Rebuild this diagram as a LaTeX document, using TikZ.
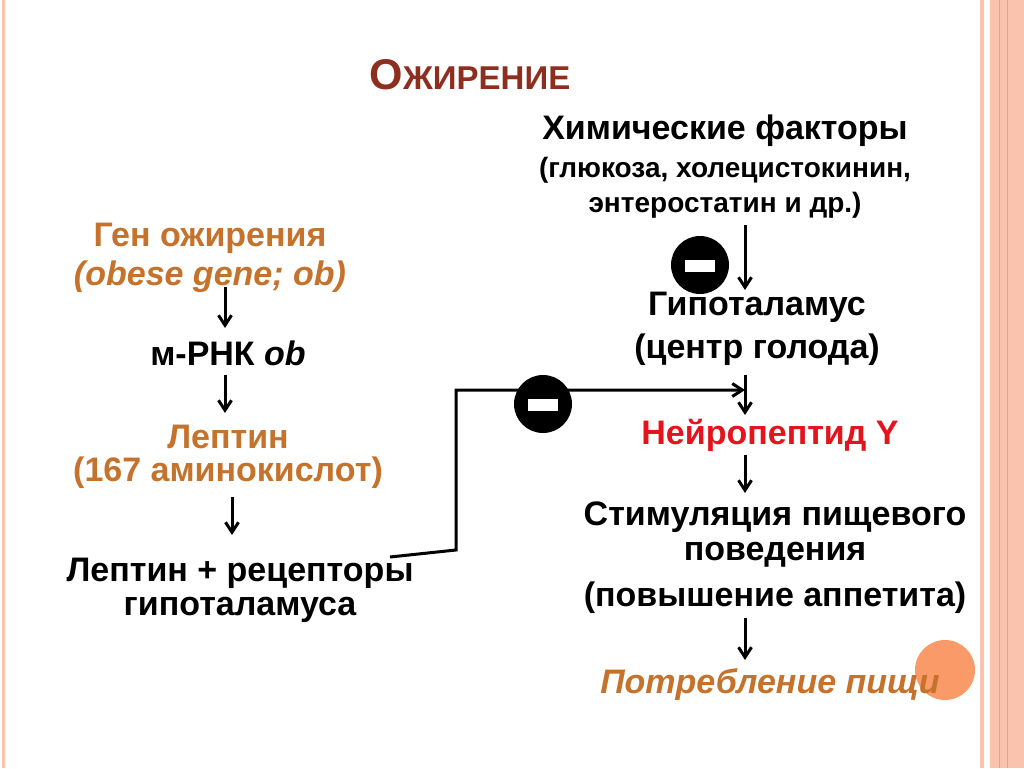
\documentclass[tikz,border=0pt]{standalone}
\usepackage{fontspec}
\setmainfont{Liberation Sans}
\usetikzlibrary{arrows.meta}
\definecolor{ttl}{HTML}{8E2E1E}
\definecolor{org}{HTML}{C5732C}
\definecolor{rd}{HTML}{E3141C}
\definecolor{pk}{HTML}{F9C3AE}
\definecolor{pkd}{HTML}{EBA184}
\definecolor{oc}{HTML}{F99A68}
\begin{document}
\begin{tikzpicture}[x=1pt,y=-1pt,
  t/.style={font=\bfseries\fontsize{34}{38}\selectfont,inner sep=0pt},
  ts/.style={font=\bfseries\fontsize{28}{32}\selectfont,inner sep=0pt},
  ar/.style={draw,line width=3pt,-{Straight Barb[length=10pt,width=13pt]}},
  minus/.style={circle,fill=black,minimum size=58pt,inner sep=0pt}]
\useasboundingbox (0,0) rectangle (1024,768);
\fill[white] (0,0) rectangle (1024,768);
% frame
\fill[pk] (2,0) rectangle (5,768);
\fill[pk] (980,0) rectangle (984,768);
\fill[pk] (990,0) rectangle (1024,768);
\draw[pkd,line width=0.8pt] (999,0) -- (999,768);
\draw[pkd,line width=0.8pt] (1007,0) -- (1007,768);
% orange circle
\fill[oc] (945,670) circle (30);
% title
\node[inner sep=0pt,text=ttl,font=\bfseries] (title) at (470,75)
  {{\fontsize{43}{46}\selectfont О}{\fontsize{33}{36}\selectfont ЖИРЕНИЕ}};
% left column
\node[t,text=org] (gen) at (210,238) {Ген ожирения};
\node[t,text=org] (gen2) at (210,277) {\itshape (obese gene; ob)};
\node[t] (mrna) at (228,353) {м-РНК \itshape ob};
\node[t,text=org] (lep) at (228,437) {Лептин};
\node[t,text=org] (lep2) at (228,473) {(167 аминокислот)};
\node[t] (rec) at (240,573) {Лептин + рецепторы};
\node[t] (rec2) at (240,610) {гипоталамуса};
\draw[ar] (225,287) -- (225,328);
\draw[ar] (225,375) -- (225,413);
\draw[ar] (232,497) -- (232,535);
% right column
\node[t] (chem) at (725,131) {Химические факторы};
\node[ts] (chem2) at (725,170) {(глюкоза, холецистокинин,};
\node[ts] (chem3) at (725,205) {энтеростатин и др.)};
\node[minus] (m1) at (700,265) {};
\fill[white] (685,260) rectangle (715,272);
\draw[ar] (745,225) -- (745,290);
\node[t] (hyp) at (757,307) {Гипоталамус};
\node[t] (hyp2) at (757,350) {(центр голода)};
\draw[ar] (745,375) -- (745,415);
\node[t,text=rd] (npy) at (770,435) {Нейропептид Y};
\draw[ar] (745,455) -- (745,493);
\node[t] (st) at (775,517) {Стимуляция пищевого};
\node[t] (st2) at (775,555) {поведения};
\node[t] (st3) at (775,598) {(повышение аппетита)};
\draw[ar] (745,618) -- (745,660);
\node[t,text=org] (food) at (770,685) {\itshape Потребление пищи};
% feedback connector
\coordinate (c0) at (390,557);
\coordinate (c1) at (456,550);
\coordinate (c2) at (456,390);
\coordinate (c3) at (745,390);
\draw[ar] (c0) -- (c1) -- (c2) -- (c3);
\node[minus] (m2) at (543,404) {};
\fill[white] (528,399) rectangle (558,411);
\end{tikzpicture}
\end{document}
